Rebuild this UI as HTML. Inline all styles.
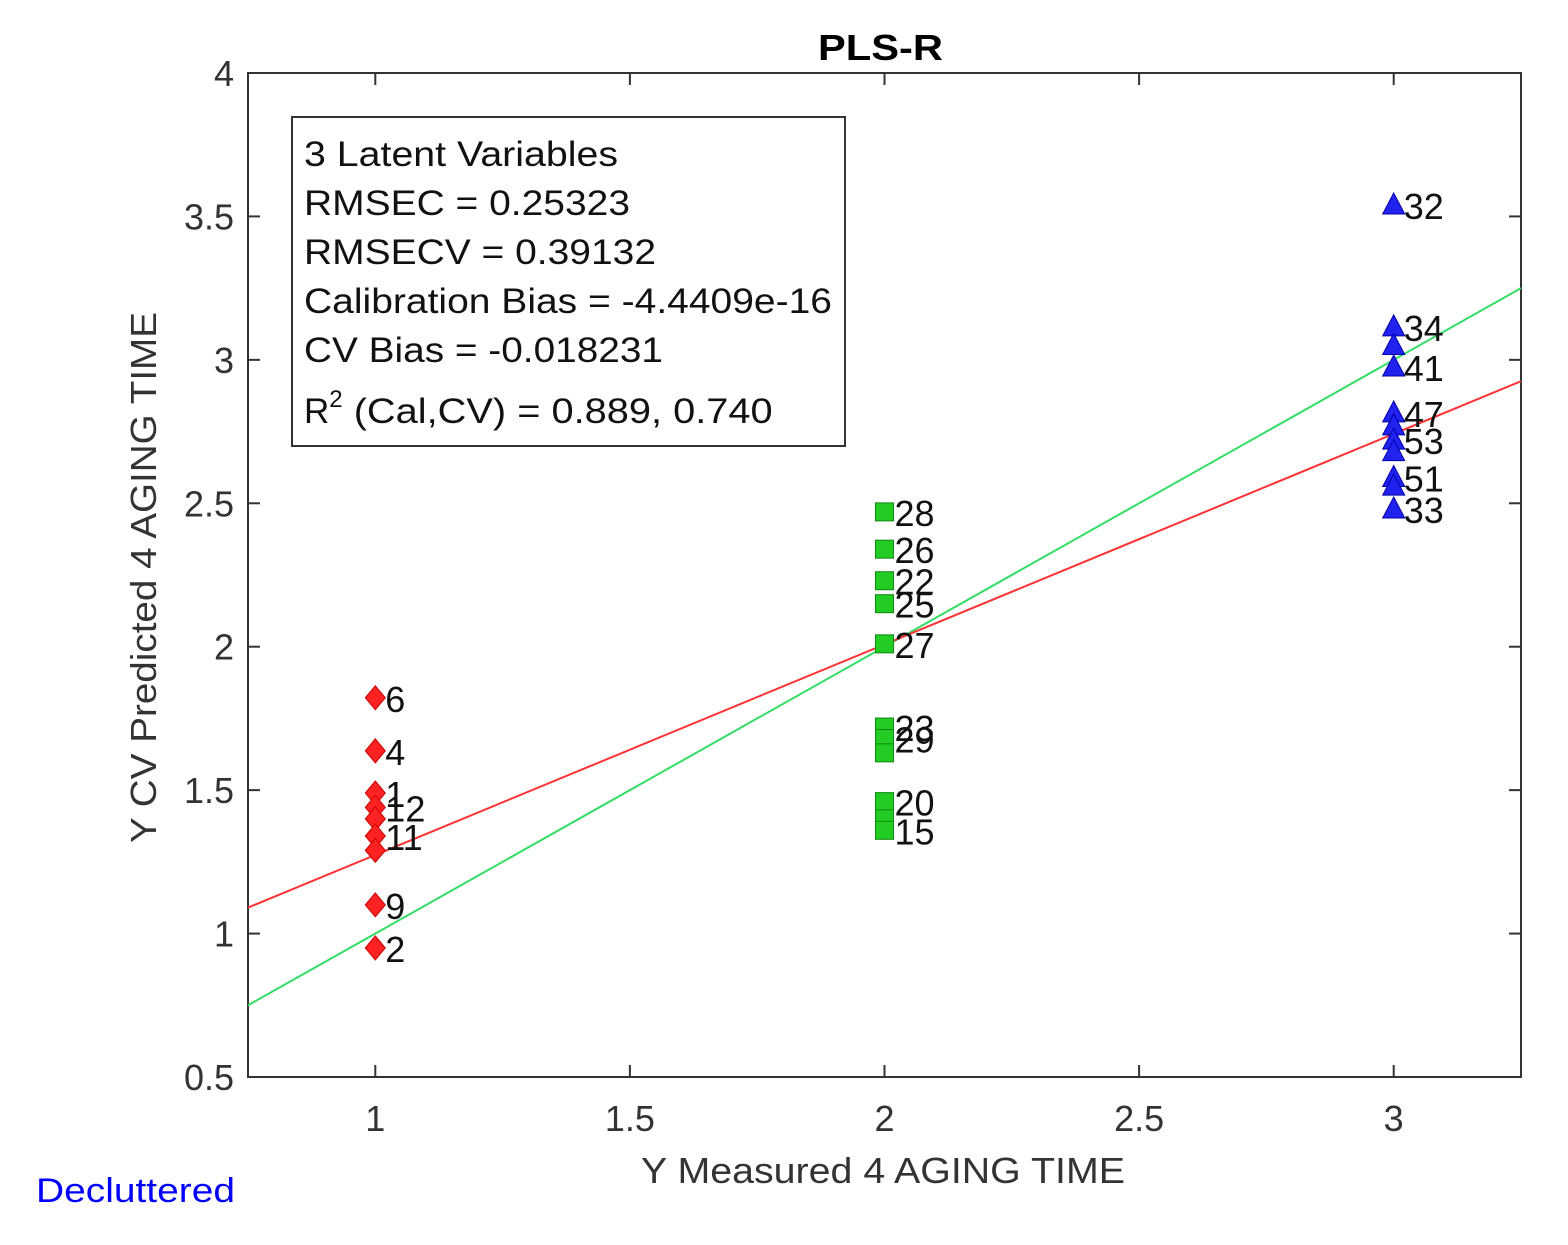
<!DOCTYPE html>
<html><head><meta charset="utf-8"><style>
body{margin:0;background:#fff;}
svg{display:block;font-family:"Liberation Sans",Arial,sans-serif;}
</style></head><body>
<svg id="chart" width="1568" height="1245" xmlns="http://www.w3.org/2000/svg">
<text x="818" y="60" font-size="36" font-weight="bold" textLength="125" lengthAdjust="spacingAndGlyphs">PLS-R</text>
<rect x="248" y="73" width="1273" height="1004" fill="none" stroke="#333" stroke-width="2"/>
<g id="axes"></g>
<g id="lines"></g>
<g id="points"></g>
<text x="641" y="1183" font-size="36" fill="#333" textLength="484" lengthAdjust="spacingAndGlyphs">Y Measured 4 AGING TIME</text>
<text transform="translate(156,843) rotate(-90)" font-size="36" fill="#333" textLength="531" lengthAdjust="spacingAndGlyphs">Y CV Predicted 4 AGING TIME</text>
<text x="36" y="1202" font-size="34" fill="#0000ff" textLength="199" lengthAdjust="spacingAndGlyphs">Decluttered</text>
<g>
<rect x="292" y="117" width="553" height="329" fill="#fff" stroke="#333" stroke-width="2"/>
<g font-size="35" fill="#111">
<text x="304" y="166" textLength="314" lengthAdjust="spacingAndGlyphs">3 Latent Variables</text>
<text x="304" y="215" textLength="326" lengthAdjust="spacingAndGlyphs">RMSEC = 0.25323</text>
<text x="304" y="264" textLength="352" lengthAdjust="spacingAndGlyphs">RMSECV = 0.39132</text>
<text x="304" y="313" textLength="528" lengthAdjust="spacingAndGlyphs">Calibration Bias = -4.4409e-16</text>
<text x="304" y="362" textLength="359" lengthAdjust="spacingAndGlyphs">CV Bias = -0.018231</text>
<text x="304" y="423">R<tspan dy="-16" font-size="24">2</tspan><tspan dy="16" textLength="430" lengthAdjust="spacingAndGlyphs"> (Cal,CV) = 0.889, 0.740</tspan></text>
</g></g>
</svg>
<script>
const xTicks=[1,1.5,2,2.5,3];
const yTicks=[0.5,1,1.5,2,2.5,3,3.5,4];
const redY=[1.822,1.637,1.49,1.44,1.40,1.34,1.29,1.10,0.95];
const redLabels=["6","4","1","12","","11","","9","2"];
const greenY=[2.47,2.34,2.23,2.15,2.01,1.72,1.68,1.63,1.46,1.40,1.36];
const greenLabels=["28","26","22","25","27","23","29","","20","","15"];
const blueY=[3.54,3.115,3.05,2.975,2.815,2.77,2.72,2.68,2.59,2.56,2.48];
const blueLabels=["32","34","","41","47","","53","","51","","33"];
const fitLine=[1,0];
const cvLine=[0.734,0.54];
const xMin=0.75,xMax=3.25,yMin=0.5,yMax=4;
const L=248,R=1521,T=73,B=1077;
const sx=v=>L+(v-xMin)/(xMax-xMin)*(R-L);
const sy=v=>B-(v-yMin)/(yMax-yMin)*(B-T);
const NS="http://www.w3.org/2000/svg";
function mk(tag,attrs,parent,txt){const e=document.createElementNS(NS,tag);for(const k in attrs)e.setAttribute(k,attrs[k]);if(txt!==undefined)e.textContent=txt;parent.appendChild(e);return e;}
const ax=document.getElementById('axes');
xTicks.forEach(v=>{
 const g=mk('g',{},ax);
 
 
 mk('line',{x1:sx(v),x2:sx(v),y1:B,y2:B-12,stroke:'#333','stroke-width':2},g);
 mk('line',{x1:sx(v),x2:sx(v),y1:T,y2:T+12,stroke:'#333','stroke-width':2},g);
 mk('text',{x:sx(v),y:B+54,'font-size':36,fill:'#333','text-anchor':'middle'},g,String(v));
});
yTicks.forEach(v=>{
 const g=mk('g',{},ax);
 
 
 mk('line',{x1:L,x2:L+12,y1:sy(v),y2:sy(v),stroke:'#333','stroke-width':2},g);
 mk('line',{x1:R,x2:R-12,y1:sy(v),y2:sy(v),stroke:'#333','stroke-width':2},g);
 mk('text',{x:L-14,y:sy(v)+13,'font-size':36,fill:'#333','text-anchor':'end'},g,String(v));
});
const ln=document.getElementById('lines');
[[fitLine,'#33dd66','fit-line'],[cvLine,'#ff3333','cv-regression-line']].forEach(([p,c,n])=>{
 const e=mk('line',{x1:sx(xMin),y1:sy(p[0]*xMin+p[1]),x2:sx(xMax),y2:sy(p[0]*xMax+p[1]),stroke:c,'stroke-width':2},ln);
 
 
});
const pt=document.getElementById('points');
function series(xv,ys,labs,shape,fill,stroke,name){
 ys.forEach((y,i)=>{
  const cx=sx(xv),cy=sy(y);let e;
  if(shape==='d')e=mk('polygon',{points:`${cx},${cy-12} ${cx+10},${cy} ${cx},${cy+12} ${cx-10},${cy}`,fill,stroke},pt);
  else if(shape==='s')e=mk('rect',{x:cx-9,y:cy-9,width:18,height:18,fill,stroke},pt);
  else e=mk('polygon',{points:`${cx},${cy-12} ${cx+11},${cy+9} ${cx-11},${cy+9}`,fill,stroke},pt);
  
  
  if(labs[i]){const t=mk('text',{x:cx+10,y:cy+14,'font-size':36,fill:'#111'},pt,labs[i]);
   
   }
 });
}
series(1,redY,redLabels,'d','#ff2222','#cc0000','red');
series(2,greenY,greenLabels,'s','#22cc22','#118811','green');
series(3,blueY,blueLabels,'t','#2222ee','#0000aa','blue');
</script>
</body></html>
